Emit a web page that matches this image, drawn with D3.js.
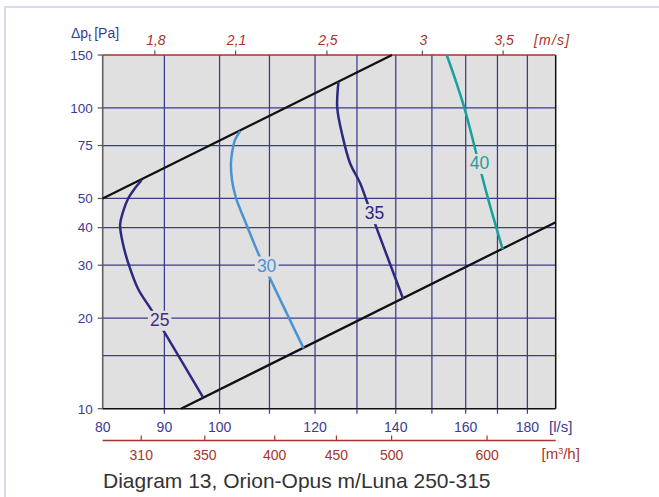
<!DOCTYPE html>
<html><head><meta charset="utf-8">
<script src="https://cdn.jsdelivr.net/npm/d3@7"></script>
<style>
body{margin:0;background:#fff;}
svg{display:block;font-family:"Liberation Sans",Arial,Helvetica,sans-serif;}
</style>
</head><body>
<svg id="c" width="659" height="497"></svg>
<script>
// ---- data ----
const flowTicks = [80, 90, 100, 120, 140, 160, 180];          // l/s labels
const flowGrid = [90, 100, 110, 120, 130, 140, 150, 160, 170, 180];
const pressureTicks = [10, 20, 30, 40, 50, 75, 100, 150];    // Pa labels
const pressureGrid = [15, 20, 30, 40, 50, 75, 100];
const velocityTicks = [1.8, 2.1, 2.5, 3, 3.5];                // m/s
const velocityLabels = ["1,8", "2,1", "2,5", "3", "3,5"];
const m3hTicks = [310, 350, 400, 450, 500, 600];              // m³/h
const ductAreaM2 = 0.0491;                                    // Ø250 duct

const upperLimit = [[80, 50], [139, 150]];
const lowerLimit = [[92.9, 10], [190, 41.7]];

const curve25 = [[86.2,57.6],[85.0,53.8],[84.0,50.1],[83.1,44.7],[82.7,40.8],[83.2,35.0],[84.1,30.05],[85.6,25.0],[87.8,21.3],[90.1,17.85],[96.9,10.9]];
const curve30 = [[104.0,83.7],[103.0,78.3],[102.4,70.7],[102.2,65.5],[102.4,57.6],[103.2,50.1],[104.9,42.4],[107.9,32.2],[110.0,27.35],[117.4,15.88]];
const curve35 = [[125.5,122.4],[125.2,100],[126.5,80.3],[128.3,65.5],[130.8,56.2],[132.5,48.8],[134.9,40.1],[142.0,23.17]];
const curve40 = [[154.3,150],[156.9,123.9],[159.6,100],[163.0,72.5],[165.0,59.8],[167.1,49.4],[171.7,33.9]];

const curveNames = ["25", "30", "35", "40"];
const curveData = [curve25, curve30, curve35, curve40];
const curveColors = ["#2b2a80", "#4b92d2", "#2b2a80", "#17a19c"];
const labelColors = ["#4a2a86", "#4b92d2", "#2b2a80", "#17a19c"];
const labelPos = [[89.2, 19.8], [109.4, 30], [134.4, 44.8], [164.3, 65.8]];

// ---- layout ----
const svg = d3.select("#c");
const L = 102.7, R = 555.7, T = 55, B = 408.7;
const x = d3.scaleLog().domain([80, 190]).range([L, R]);
const y = d3.scaleLog().domain([10, 150]).range([B, T]);
const navy = "#3b3b95", red = "#a8342b", gridC = "#3a3a8e", bg = "#e0e0e0";

// outer frame
svg.append("line").attr("x1", 4).attr("x2", 659).attr("y1", 7).attr("y2", 7).attr("stroke", "#d6dcee").attr("stroke-width", 2);
svg.append("line").attr("x1", 5).attr("x2", 5).attr("y1", 6).attr("y2", 497).attr("stroke", "#d6dcee").attr("stroke-width", 2);

// plot background
svg.append("rect").attr("x", L).attr("y", T).attr("width", R - L).attr("height", B - T).attr("fill", bg);

// grid
svg.append("g").selectAll("line").data(flowGrid).join("line")
  .attr("x1", d => x(d)).attr("x2", d => x(d)).attr("y1", T).attr("y2", B)
  .attr("stroke", gridC).attr("stroke-width", 1.25);
svg.append("g").selectAll("line").data(pressureGrid).join("line")
  .attr("y1", d => y(d)).attr("y2", d => y(d)).attr("x1", L).attr("x2", R)
  .attr("stroke", gridC).attr("stroke-width", 1.25);

// borders
svg.append("line").attr("x1", L).attr("x2", L).attr("y1", T).attr("y2", B).attr("stroke", "#606060").attr("stroke-width", 1.6);
svg.append("line").attr("x1", R).attr("x2", R).attr("y1", T).attr("y2", B).attr("stroke", "#111").attr("stroke-width", 1.5);
svg.append("line").attr("x1", L).attr("x2", R).attr("y1", B).attr("y2", B).attr("stroke", "#111").attr("stroke-width", 1.5);
svg.append("line").attr("x1", L).attr("x2", R).attr("y1", T).attr("y2", T).attr("stroke", red).attr("stroke-width", 1.5);

// left axis
const yAxis = svg.append("g");
yAxis.selectAll("line").data(pressureTicks).join("line")
  .attr("x1", L - 5).attr("x2", L).attr("y1", d => y(d)).attr("y2", d => y(d))
  .attr("stroke", "#555").attr("stroke-width", 1.2);
yAxis.selectAll("text").data(pressureTicks).join("text")
  .attr("x", L - 10).attr("y", d => y(d)).attr("dy", "0.36em")
  .attr("text-anchor", "end").attr("font-size", 13.5).attr("fill", navy).text(d => d);
const yl = svg.append("text").attr("x", 71).attr("y", 37.5).attr("font-size", 14).attr("fill", navy);
yl.append("tspan").text("Δp");
yl.append("tspan").attr("font-size", 11).attr("dy", 3.5).text("t");
yl.append("tspan").attr("dy", -3.5).attr("dx", 3).text("[Pa]");

// bottom l/s axis
const xAxis = svg.append("g");
xAxis.selectAll("line").data(flowGrid).join("line")
  .attr("x1", d => x(d)).attr("x2", d => x(d)).attr("y1", B).attr("y2", B + 5)
  .attr("stroke", navy).attr("stroke-width", 1.2);
xAxis.selectAll("text").data(flowTicks).join("text")
  .attr("x", d => x(d)).attr("y", 431.5).attr("text-anchor", "middle")
  .attr("font-size", 14).attr("fill", navy).text(d => d);
svg.append("text").attr("x", 549).attr("y", 431.5).attr("font-size", 15).attr("fill", navy).text("[l/s]");

// bottom m³/h axis
const mAxis = svg.append("g");
mAxis.append("line").attr("x1", L).attr("x2", R).attr("y1", 440.5).attr("y2", 440.5).attr("stroke", red).attr("stroke-width", 1.3);
mAxis.selectAll("line.t").data(m3hTicks).join("line").attr("class", "t")
  .attr("x1", d => x(d / 3.6)).attr("x2", d => x(d / 3.6)).attr("y1", 435.5).attr("y2", 440.5)
  .attr("stroke", red).attr("stroke-width", 1.2);
mAxis.selectAll("text").data(m3hTicks).join("text")
  .attr("x", d => x(d / 3.6)).attr("y", 460).attr("text-anchor", "middle")
  .attr("font-size", 14).attr("fill", red).text(d => d);
const mlab = svg.append("text").attr("x", 541.5).attr("y", 459).attr("font-size", 15).attr("fill", red);
mlab.append("tspan").text("[m");
mlab.append("tspan").attr("font-size", 9).attr("dy", -5).text("3");
mlab.append("tspan").attr("dy", 5).text("/h]");

// top m/s axis
const vAxis = svg.append("g");
vAxis.selectAll("line").data(velocityTicks).join("line")
  .attr("x1", d => x(d * ductAreaM2 * 1000)).attr("x2", d => x(d * ductAreaM2 * 1000))
  .attr("y1", T - 4.5).attr("y2", T).attr("stroke", "#555").attr("stroke-width", 1.2);
vAxis.selectAll("text").data(velocityTicks).join("text")
  .attr("x", d => x(d * ductAreaM2 * 1000) + 1).attr("y", 45).attr("text-anchor", "middle")
  .attr("font-size", 14).attr("font-style", "italic").attr("fill", red)
  .text((d, i) => velocityLabels[i]);
svg.append("text").attr("x", 534).attr("y", 45).attr("font-size", 14).attr("font-style", "italic")
  .attr("fill", red).attr("letter-spacing", 1.2).text("[m/s]");

// limit lines
const line = d3.line().x(d => x(d[0])).y(d => y(d[1]));
svg.append("path").attr("d", line(upperLimit)).attr("fill", "none").attr("stroke", "#111").attr("stroke-width", 2.3);
svg.append("path").attr("d", line(lowerLimit)).attr("fill", "none").attr("stroke", "#111").attr("stroke-width", 2.3);

// sound curves
const cline = d3.line().x(d => x(d[0])).y(d => y(d[1])).curve(d3.curveCatmullRom.alpha(0.5));
curveData.forEach((c, i) => {
  svg.append("path").attr("d", cline(c)).attr("fill", "none")
    .attr("stroke", curveColors[i]).attr("stroke-width", 2.5).attr("stroke-linecap", "butt");
});

// curve labels with background gap
curveNames.forEach((n, i) => {
  const g = svg.append("g");
  const t = g.append("text").attr("x", x(labelPos[i][0])).attr("y", y(labelPos[i][1]))
    .attr("dy", "0.36em").attr("text-anchor", "middle").attr("font-size", 17.5)
    .attr("fill", labelColors[i]).text(n);
  const bb = t.node().getBBox();
  g.insert("rect", "text").attr("x", bb.x - 2).attr("y", bb.y + 1).attr("width", bb.width + 4)
    .attr("height", bb.height).attr("fill", bg);
});

// caption
svg.append("text").attr("x", 103).attr("y", 487.5).attr("font-size", 21).attr("fill", "#333")
  .text("Diagram 13, Orion-Opus m/Luna 250-315");
</script>
</body></html>
